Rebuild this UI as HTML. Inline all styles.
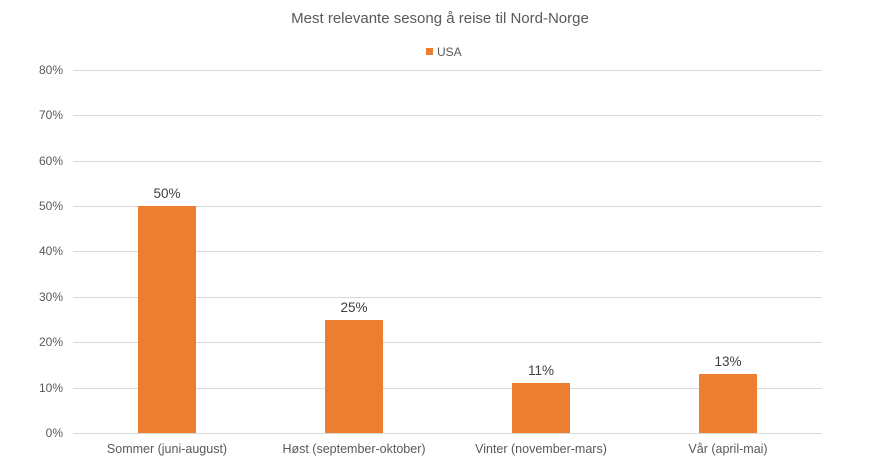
<!DOCTYPE html>
<html><head><meta charset="utf-8"><style>
body{margin:0;background:#fff;}
svg{display:block;font-family:"Liberation Sans",sans-serif;}
</style></head><body>
<svg width="880" height="468" viewBox="0 0 880 468">
<text x="440" y="23" text-anchor="middle" font-size="15" fill="#595959">Mest relevante sesong å reise til Nord-Norge</text>
<rect x="426" y="48" width="7" height="7" fill="#ED7D31"/>
<text x="437" y="56" font-size="12" fill="#595959">USA</text>
<g stroke="#d9d9d9" stroke-width="1">
<line x1="73" x2="822" y1="70.5" y2="70.5"/>
<line x1="73" x2="822" y1="115.5" y2="115.5"/>
<line x1="73" x2="822" y1="161.5" y2="161.5"/>
<line x1="73" x2="822" y1="206.5" y2="206.5"/>
<line x1="73" x2="822" y1="251.5" y2="251.5"/>
<line x1="73" x2="822" y1="297.5" y2="297.5"/>
<line x1="73" x2="822" y1="342.5" y2="342.5"/>
<line x1="73" x2="822" y1="388.5" y2="388.5"/>
<line x1="73" x2="822" y1="433.5" y2="433.5"/>
</g>
<g font-size="12" fill="#595959" text-anchor="end">
<text x="63" y="74">80%</text><text x="63" y="119">70%</text><text x="63" y="165">60%</text>
<text x="63" y="210">50%</text><text x="63" y="255">40%</text><text x="63" y="301">30%</text>
<text x="63" y="346">20%</text><text x="63" y="392">10%</text><text x="63" y="437">0%</text>
</g>
<g fill="#ED7D31">
<rect x="138" y="206" width="58" height="227"/>
<rect x="325" y="320" width="58" height="113"/>
<rect x="512" y="383" width="58" height="50"/>
<rect x="699" y="374" width="58" height="59"/>
</g>
<g font-size="13.5" fill="#404040" text-anchor="middle">
<text x="167" y="198">50%</text><text x="354" y="312">25%</text>
<text x="541" y="375">11%</text><text x="728" y="366">13%</text>
</g>
<g font-size="12.5" fill="#595959" text-anchor="middle">
<text x="167" y="453">Sommer (juni-august)</text>
<text x="354" y="453">Høst (september-oktober)</text>
<text x="541" y="453">Vinter (november-mars)</text>
<text x="728" y="453">Vår (april-mai)</text>
</g>
</svg>
</body></html>
